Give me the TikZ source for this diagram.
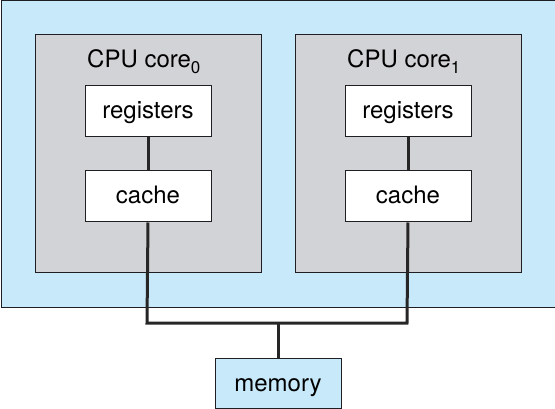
\documentclass[tikz,border=0pt]{standalone}
\usepackage{fontspec}
\setmainfont{TeX Gyre Heros}
\definecolor{lblue}{RGB}{200,233,250}
\definecolor{lgray}{RGB}{210,211,214}
\definecolor{edge}{RGB}{30,30,35}
\newcommand{\subidx}[1]{\raisebox{-5.5pt}{\fontsize{17}{17}\selectfont #1}}
\begin{document}
\begin{tikzpicture}[x=1pt,y=-1pt,
  box/.style={draw=edge,line width=1pt,inner sep=0pt,anchor=north west},
  lbl/.style={font=\fontsize{24}{28}\selectfont,inner sep=0pt,anchor=base},
  conn/.style={line width=3pt,draw=black!85}]
\useasboundingbox (0,0) rectangle (555,409);
\node[box,fill=lblue,minimum width=554pt,minimum height=306pt] (outer) at (0.5,0.5) {};
\node[box,fill=lgray,minimum width=226pt,minimum height=238pt] (core0) at (34.5,34.5) {};
\node[box,fill=lgray,minimum width=226pt,minimum height=238pt] (core1) at (294.5,34.5) {};
\node[lbl,anchor=base west] (t0) at (87,68) {CPU core\subidx{0}};
\node[lbl,anchor=base west] (t1) at (347,68) {CPU core\subidx{1}};
\node[box,fill=white,minimum width=126pt,minimum height=51pt] (reg0) at (84.5,85.5) {};
\node[box,fill=white,minimum width=126pt,minimum height=51pt] (cache0) at (84.5,170.5) {};
\node[box,fill=white,minimum width=126pt,minimum height=51pt] (reg1) at (344.5,85.5) {};
\node[box,fill=white,minimum width=126pt,minimum height=51pt] (cache1) at (344.5,170.5) {};
\node[lbl] (r0t) at ([yshift=-7pt]reg0.center) {registers};
\node[lbl] (c0t) at ([yshift=-7.5pt]cache0.center) {cache};
\node[lbl] (r1t) at ([yshift=-7pt]reg1.center) {registers};
\node[lbl] (c1t) at ([yshift=-7.5pt]cache1.center) {cache};
\node[box,fill=lblue,minimum width=126pt,minimum height=50pt] (mem) at (214.5,357.5) {};
\node[lbl] (mt) at ([yshift=-8.5pt]mem.center) {memory};
\coordinate (b0) at (147,323);
\coordinate (b1) at (407,323);
\coordinate (bm) at (278,323);
\draw[conn] (reg0.south) -- (cache0.north);
\draw[conn] (reg1.south) -- (cache1.north);
\draw[conn] (cache0.south) -- (b0) -- (b1) -- (cache1.south);
\draw[conn] (bm) -- (bm |- mem.north);
\end{tikzpicture}
\end{document}
